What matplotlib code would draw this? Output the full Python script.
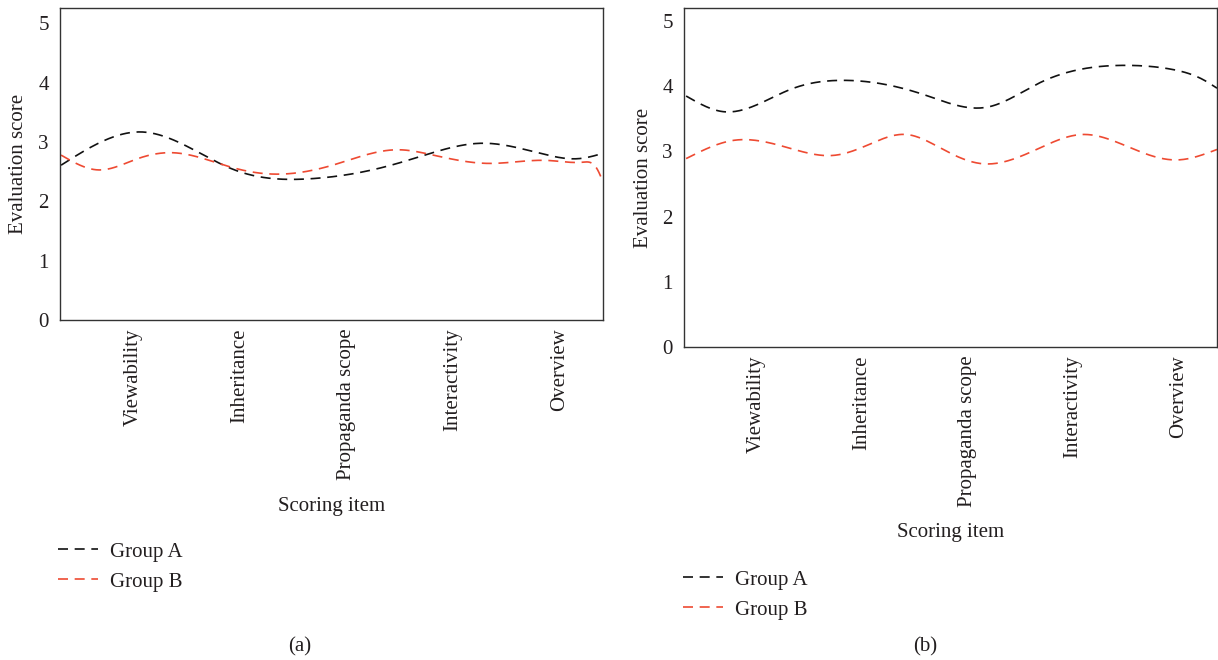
import numpy as np
import matplotlib
matplotlib.use("Agg")
import matplotlib.pyplot as plt

# ---------------- data ----------------
categories = ["Viewability", "Inheritance", "Propaganda scope", "Interactivity", "Overview"]
cat_pos = [1, 2, 3, 4, 5]
yticks = [0, 1, 2, 3, 4, 5]
series_labels = ["Group A", "Group B"]

# panel (a) read-off curve points (x in category units)
a_groupA_x = [0.32, 1.08, 1.95, 2.65, 3.42, 3.79, 4.28, 4.89, 5.18, 5.41]
a_groupA_y = [2.61, 3.17, 2.53, 2.38, 2.61, 2.81, 2.98, 2.78, 2.72, 2.81]
a_groupB_x = [0.32, 0.67, 1.04, 1.37, 1.95, 2.31, 2.87, 3.49, 3.79, 4.33, 4.89, 5.22, 5.35, 5.41]
a_groupB_y = [2.78, 2.53, 2.72, 2.82, 2.56, 2.46, 2.61, 2.87, 2.79, 2.64, 2.69, 2.66, 2.56, 2.33]

# panel (b) read-off curve points
b_groupA_x = [0.34, 0.69, 1.34, 1.80, 2.59, 3.19, 3.68, 4.04, 4.51, 4.93, 5.23, 5.36]
b_groupA_y = [3.85, 3.61, 3.96, 4.09, 3.87, 3.68, 4.05, 4.25, 4.32, 4.26, 4.10, 3.97]
b_groupB_x = [0.34, 0.79, 1.34, 1.74, 2.06, 2.42, 2.77, 3.15, 3.68, 4.09, 4.58, 4.99, 5.36]
b_groupB_y = [2.89, 3.17, 3.04, 2.94, 3.10, 3.26, 3.03, 2.81, 3.05, 3.26, 3.03, 2.87, 3.03]


def natural_spline(x, y, n=400):
    x = np.asarray(x, float)
    y = np.asarray(y, float)
    m = len(x)
    h = np.diff(x)
    A = np.zeros((m, m))
    r = np.zeros(m)
    A[0, 0] = 1
    A[-1, -1] = 1
    for i in range(1, m - 1):
        A[i, i - 1] = h[i - 1]
        A[i, i] = 2 * (h[i - 1] + h[i])
        A[i, i + 1] = h[i]
        r[i] = 3 * ((y[i + 1] - y[i]) / h[i] - (y[i] - y[i - 1]) / h[i - 1])
    c = np.linalg.solve(A, r)
    b = np.zeros(m - 1)
    d = np.zeros(m - 1)
    for i in range(m - 1):
        b[i] = (y[i + 1] - y[i]) / h[i] - h[i] * (2 * c[i] + c[i + 1]) / 3
        d[i] = (c[i + 1] - c[i]) / (3 * h[i])
    xs = np.linspace(x[0], x[-1], n)
    idx = np.clip(np.searchsorted(x, xs) - 1, 0, m - 2)
    dx = xs - x[idx]
    ys = y[idx] + b[idx] * dx + c[idx] * dx ** 2 + d[idx] * dx ** 3
    return xs, ys


plt.rcParams['font.family'] = ['Liberation Serif', 'DejaVu Serif']
plt.rcParams['font.size'] = 15
text_color = '#231f20'
black = '#111111'
red = '#ee4a32'

fig = plt.figure(figsize=(12.18, 6.6), dpi=100)
ax_a = fig.add_axes([60 / 1218, 1 - 320 / 660, 543 / 1218, 312 / 660])
ax_b = fig.add_axes([684 / 1218, 1 - 347 / 660, 533 / 1218, 339 / 660])

panels = [
    (ax_a, (a_groupA_x, a_groupA_y), (a_groupB_x, a_groupB_y), (0.31, 5.41), 5.26, -0.567, -0.059, (58, 542), 300, '(a)'),
    (ax_b, (b_groupA_x, b_groupA_y), (b_groupB_x, b_groupB_y), (0.32, 5.36), 5.2, -0.519, -0.058, (683, 570), 925, '(b)'),
]

for ax, sA, sB, xlim, ytop, xlab_y, ylab_x, leg_pos, cap_x, cap in panels:
    xs, ys = natural_spline(*sA)
    lA, = ax.plot(xs, ys, color=black, lw=1.2, dashes=(6, 4), label=series_labels[0])
    xs, ys = natural_spline(*sB)
    lB, = ax.plot(xs, ys, color=red, lw=1.2, dashes=(6, 4), label=series_labels[1])
    ax.set_xlim(*xlim)
    ax.set_ylim(0, ytop)
    ax.set_xticks(cat_pos)
    ax.set_xticklabels(categories, rotation=90, color=text_color)
    ax.set_yticks(yticks)
    ax.set_yticklabels([str(v) for v in yticks], color=text_color)
    ax.tick_params(axis='both', length=0)
    ax.tick_params(axis='x', pad=6)
    ax.tick_params(axis='y', pad=8)
    for s in ax.spines.values():
        s.set_color('#333333')
        s.set_linewidth(1.0)
    ax.set_ylabel("Evaluation score", color=text_color)
    ax.yaxis.set_label_coords(ylab_x, 0.5)
    ax.set_xlabel("Scoring item", color=text_color)
    ax.xaxis.set_label_coords(0.5, xlab_y)
    leg = fig.legend(handles=[lA, lB], loc='upper left',
                     bbox_to_anchor=(leg_pos[0] / 1218, 1 - leg_pos[1] / 660),
                     frameon=False, borderpad=0, borderaxespad=0,
                     handlelength=1.9, handletextpad=0.6, labelspacing=0.5)
    for t in leg.get_texts():
        t.set_color(text_color)
    fig.text(cap_x / 1218, 1 - 647 / 660, cap, ha='center', va='center', color=text_color)

fig.savefig("out.png", dpi=100)
